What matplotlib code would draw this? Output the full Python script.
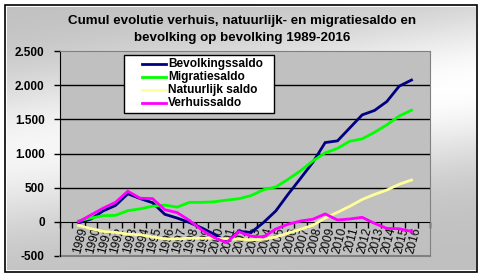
import numpy as np
import matplotlib
matplotlib.use("Agg")
import matplotlib.pyplot as plt
from matplotlib.patches import Rectangle
from matplotlib.lines import Line2D

years = list(range(1989, 2017))
bevolkingssaldo = [-15, 40, 160, 240, 410, 340, 280, 110, 55, -10, -90, -180, -290, -140,
                   -155, -10, 160, 405, 635, 870, 1160, 1185, 1375, 1565, 1630, 1760, 1985, 2075]
migratiesaldo = [15, 55, 90, 95, 163, 190, 228, 245, 215, 285, 285, 293, 318, 338,
                 385, 470, 510, 623, 747, 890, 1010, 1075, 1180, 1214, 1310, 1419, 1548, 1633]
natuurlijk_saldo = [-52, -100, -140, -155, -180, -190, -220, -250, -250, -240, -240, -240, -250, -255,
                    -262, -256, -220, -165, -110, -50, 54, 139, 228, 327, 401, 465, 549, 612]
verhuissaldo = [0, 100, 200, 285, 448, 345, 340, 177, 135, 20, -120, -230, -303, -145,
                -210, -222, -104, -35, 12, 38, 116, 27, 42, 66, -22, -96, -101, -140]

series_names = ["Bevolkingssaldo", "Migratiesaldo", "Natuurlijk saldo", "Verhuissaldo"]
series_colors = ["#000080", "#00FF00", "#FFFF99", "#FF00FF"]
y_ticks = [-500, 0, 500, 1000, 1500, 2000, 2500]
y_labels = ["-500", "0", "500", "1.000", "1.500", "2.000", "2.500"]
title_lines = ["Cumul evolutie verhuis, natuurlijk- en migratiesaldo en",
               "bevolking op bevolking 1989-2016"]

plt.rcParams['font.family'] = ['Liberation Sans', 'DejaVu Sans']

W, H = 483, 277
fig = plt.figure(figsize=(W / 100, H / 100), dpi=100)

# background gradient (pixel coordinates, y down)
bg = fig.add_axes([0, 0, 1, 1], zorder=-10)
xs = np.linspace(0, 1, W)
ys = np.linspace(0, 1, H)
X, Y = np.meshgrid(xs, ys)
peak = 0.55 - 0.25 * X
f = np.exp(-((Y - peak) / 0.28) ** 2) * (0.85 + 0.15 * X)
val = (192 + (255 - 192) * f) / 255.0
img = np.dstack([val, val, val])
bg.imshow(img, extent=[0, W, H, 0], aspect='auto')
bg.set_xlim(0, W)
bg.set_ylim(H, 0)
bg.axis('off')
bg.add_patch(Rectangle((0, 0), W, H, fill=False, edgecolor='white', lw=10))
bg.add_patch(Rectangle((5, 5), 471.5, 266.5, fill=False, edgecolor='black', lw=1.2))

# title
bg.text(242, 21, title_lines[0], ha='center', va='center', fontsize=9.6, fontweight='bold')
bg.text(242, 38, title_lines[1], ha='center', va='center', fontsize=9.6, fontweight='bold')

ax = fig.add_axes([60 / W, (H - 256) / H, 370 / W, 205 / H])
ax.set_facecolor("#C0C0C0")
for v in [500, 1000, 1500, 2000]:
    ax.axhline(v, color='black', lw=1, zorder=1)

for vals, name, col in zip([bevolkingssaldo, migratiesaldo, natuurlijk_saldo, verhuissaldo],
                           series_names, series_colors):
    ax.plot(years, vals, color=col, lw=2, label=name, zorder=3, solid_joinstyle='miter')

ax.set_xlim(1987.5, 2017.5)
ax.set_ylim(-500, 2500)
ax.set_yticks(y_ticks)
ax.set_yticklabels(y_labels, fontsize=8.5, fontweight='bold')
ax.tick_params(axis='y', direction='out', length=4, width=1, color='black', pad=7)

ax.spines['bottom'].set_position(('data', 0))
ax.spines['bottom'].set_color('black')
ax.spines['bottom'].set_zorder(2)
ax.spines['left'].set_color('black')
for s in ['top', 'right']:
    ax.spines[s].set_color('#808080')
ax.axhline(-500, color='#808080', lw=1.5, clip_on=False, zorder=2)

ax.set_xticks(years)
ax.set_xticklabels([str(y) for y in years], rotation=75, fontsize=8.5,
                   ha='right', va='top', rotation_mode='anchor')
ax.tick_params(axis='x', which='major', length=0, pad=3)
ax.set_xticks([1987.5 + k for k in range(31)], minor=True)
ax.tick_params(axis='x', which='minor', direction='out', length=4, width=1, color='black')

# legend drawn in pixel coordinates on an overlay axes
lg = fig.add_axes([0, 0, 1, 1], zorder=10)
lg.set_xlim(0, W)
lg.set_ylim(H, 0)
lg.axis('off')
lg.add_patch(Rectangle((123.5, 54.5), 150.5, 58.5, facecolor='white', edgecolor='black', lw=1))
for i, (name, col) in enumerate(zip(series_names, series_colors)):
    yy = 63.5 + i * 13.3
    lg.add_line(Line2D([142, 166], [yy, yy], color=col, lw=2))
    lg.text(168, yy, name, ha='left', va='center', fontsize=8.6, fontweight='bold')

fig.savefig("out.png", dpi=100)
